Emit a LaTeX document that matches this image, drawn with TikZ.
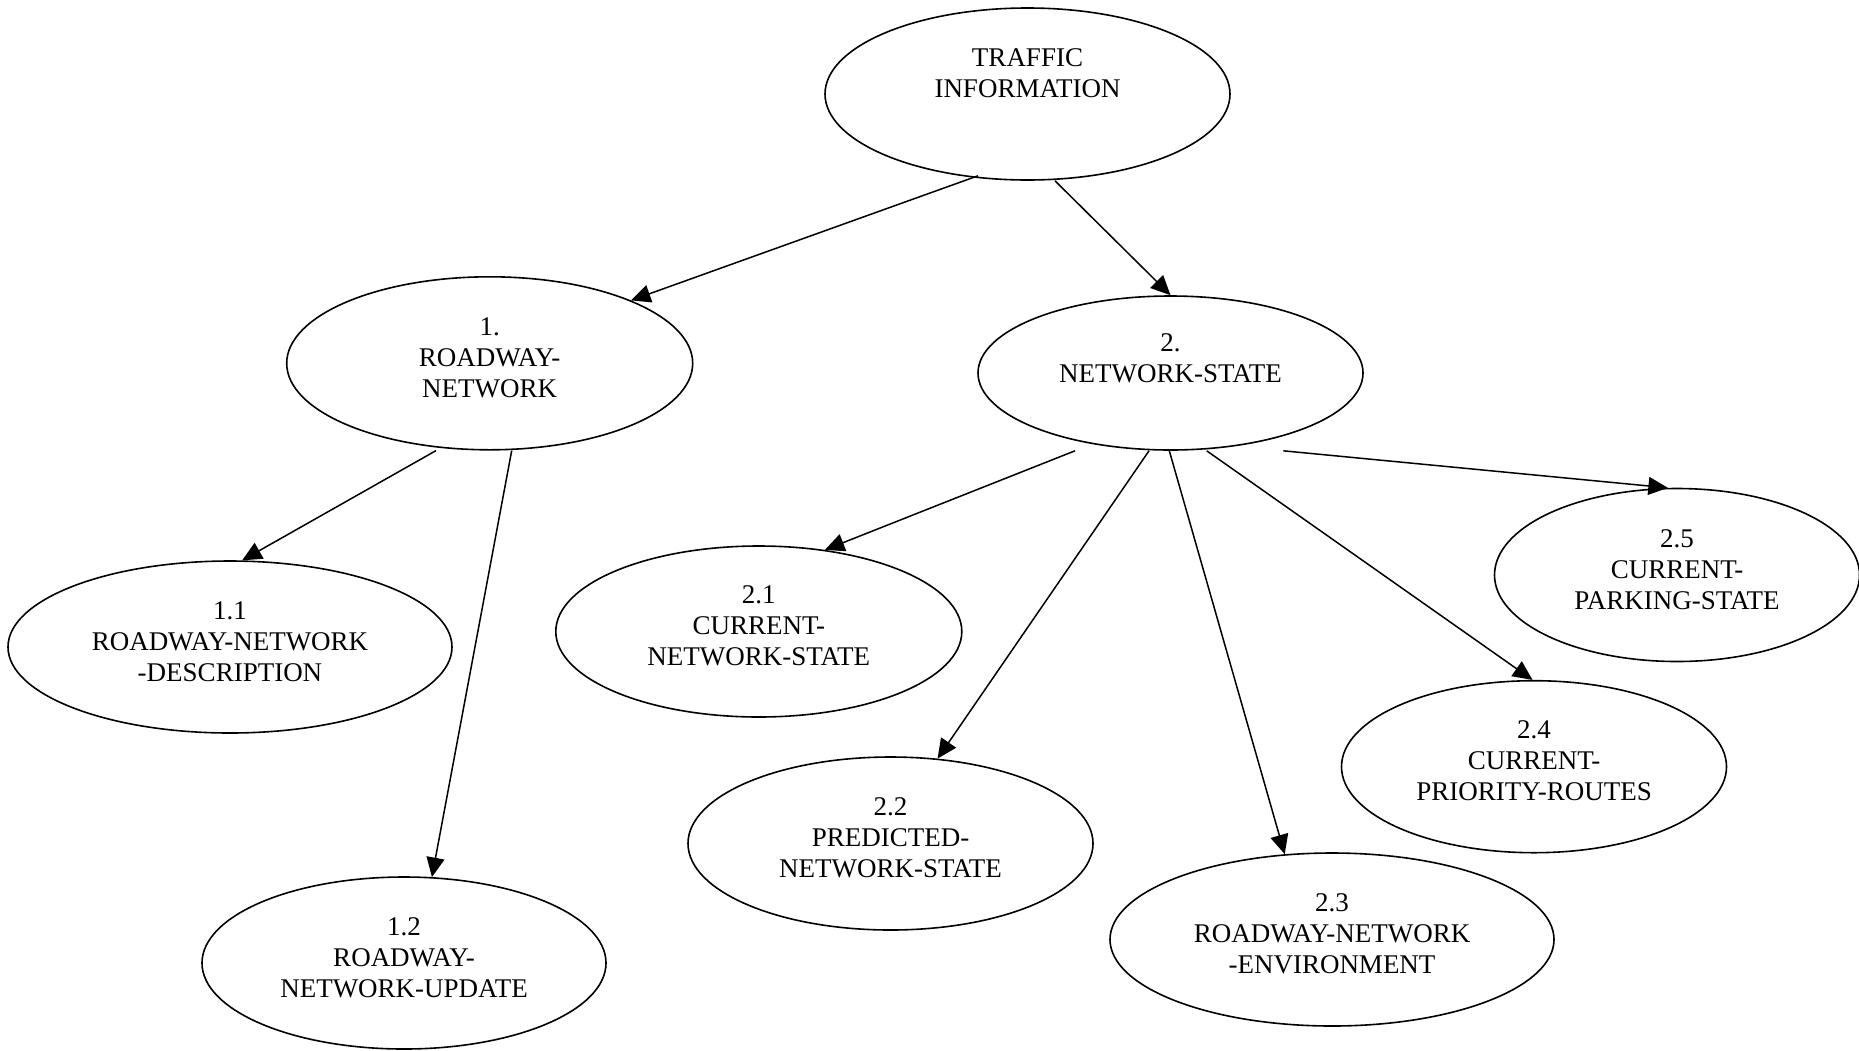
\documentclass[tikz,border=0pt]{standalone}
\usepackage{fontspec}
\setmainfont{Liberation Serif}
\usetikzlibrary{arrows.meta,shapes.geometric}
\begin{document}
\begin{tikzpicture}[x=1pt,y=-1pt,
  bubble/.style={draw, ellipse, line width=1.6pt, inner sep=0pt},
  caption/.style={align=center, font=\fontsize{27}{31}\selectfont, inner sep=0pt},
  twoline/.style={caption, yshift=21pt},
  threeline/.style={caption, yshift=5.6pt},
  link/.style={line width=1.5pt, -{Triangle[length=19.5pt,width=18pt]}}]
\path[use as bounding box] (0,0) rectangle (1859,1050);

% ellipses
\node[bubble, minimum width=405pt, minimum height=172pt] (ti)  at (1027.5,94)   {};
\node[bubble, minimum width=406pt, minimum height=173pt] (rn)  at (489.7,363.3) {};
\node[bubble, minimum width=385pt, minimum height=154pt] (ns)  at (1170.5,373)  {};
\node[bubble, minimum width=444pt, minimum height=172pt] (n11) at (230,647)     {};
\node[bubble, minimum width=404pt, minimum height=172pt] (n12) at (404,963)     {};
\node[bubble, minimum width=406pt, minimum height=171pt] (n21) at (758.8,631.5) {};
\node[bubble, minimum width=405pt, minimum height=173pt] (n22) at (890.5,843.5) {};
\node[bubble, minimum width=444pt, minimum height=173pt] (n23) at (1332,939.5)  {};
\node[bubble, minimum width=385pt, minimum height=172pt] (n24) at (1534,766.7)  {};
\node[bubble, minimum width=365pt, minimum height=173pt] (n25) at (1677,575)    {};

% labels
\node[twoline] (tiT) at (ti.center) {TRAFFIC\\INFORMATION};
\node[threeline] (rnT) at (rn.center) {1.\\ROADWAY-\\NETWORK};
\node[caption, yshift=14.75pt] (nsT) at (ns.center) {2.\\NETWORK-STATE};
\node[threeline] (n11T) at (n11.center) {1.1\\ROADWAY-NETWORK\\-DESCRIPTION};
\node[threeline] (n12T) at (n12.center) {1.2\\ROADWAY-\\NETWORK-UPDATE};
\node[threeline] (n21T) at (n21.center) {2.1\\CURRENT-\\NETWORK-STATE};
\node[threeline] (n22T) at (n22.center) {2.2\\PREDICTED-\\NETWORK-STATE};
\node[threeline] (n23T) at (n23.center) {2.3\\ROADWAY-NETWORK\\-ENVIRONMENT};
\node[threeline] (n24T) at (n24.center) {2.4\\CURRENT-\\PRIORITY-ROUTES};
\node[threeline] (n25T) at (n25.center) {2.5\\CURRENT-\\PARKING-STATE};

% connectors
\draw[link] ([xshift=-49.5pt,yshift=5pt]ti.south) -- (rn.24.6);
\draw[link] ([xshift=27.5pt]ti.south) -- (ns.north);
\draw[link] ([xshift=-53.7pt]rn.south) -- (n11.82);
\draw[link] ([xshift=22pt]rn.south) -- (n12.72);
\draw[link] ([xshift=-95.5pt]ns.south) -- (n21.51.9);
\draw[link] ([xshift=-21.5pt]ns.south) -- (n22.61.4);
\draw[link] ([xshift=-1.2pt]ns.south) -- (n23.119.3);
\draw[link] ([xshift=36.2pt]ns.south) -- (n24.91.5);
\draw[link] ([xshift=112.8pt]ns.south) -- (n25.96.8);
\end{tikzpicture}
\end{document}
